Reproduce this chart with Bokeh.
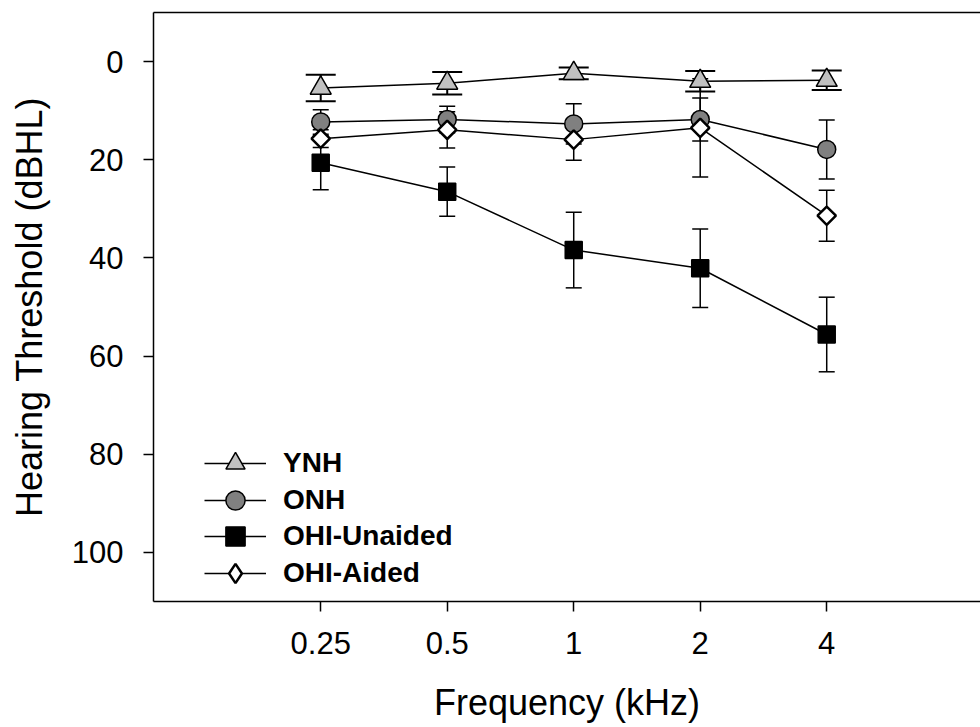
import math
import numpy as np
from bokeh.plotting import figure
from bokeh.models import (Range1d, FixedTicker, LinearAxis, Whisker, TeeHead,
                          ColumnDataSource, Legend, LegendItem, CustomJSTickFormatter)
from bokeh.embed import file_html
from bokeh.resources import INLINE

# ---- data ----
freqs = [0.25, 0.5, 1, 2, 4]
freq_labels = ["0.25", "0.5", "1", "2", "4"]
y_ticks = [0, 20, 40, 60, 80, 100]

ynh = [5.4, 4.4, 2.4, 4.0, 3.8]
ynh_err = [2.7, 2.3, 1.2, 2.1, 2.0]
onh = [12.3, 11.8, 12.7, 11.8, 17.9]
onh_err = [2.5, 2.7, 4.1, 4.4, 6.0]
ohi_unaided = [20.6, 26.5, 38.4, 42.1, 55.6]
ohi_unaided_err = [5.5, 5.0, 7.7, 8.0, 7.6]
ohi_aided = [15.7, 13.9, 15.9, 13.5, 31.4]
ohi_aided_err = [1.8, 3.7, 4.2, 10.0, 5.2]

FONT = "Liberation Sans"

p = figure(width=980, height=727, output_backend="svg", toolbar_location=None,
           x_axis_type="log", x_range=Range1d(0.1, 9.29), y_range=Range1d(110, -10),
           min_border_left=153, min_border_right=0, min_border_top=12, min_border_bottom=126)
p.outline_line_color = None
p.grid.visible = False
p.background_fill_color = "white"

# x axis
xa = p.xaxis[0]
xa.ticker = FixedTicker(ticks=freqs)
xa.formatter = CustomJSTickFormatter(code="return String(tick)")
xa.major_label_overrides = dict(zip(freqs, freq_labels))
xa.minor_tick_line_color = None
xa.major_tick_in = 0
xa.major_tick_out = 10
xa.major_tick_line_width = 1.5
xa.axis_line_width = 1.5
xa.major_label_text_font = FONT
xa.major_label_text_font_size = "31px"
xa.major_label_text_color = "black"
xa.major_label_standoff = 20
xa.axis_label = "Frequency (kHz)"
xa.axis_label_text_font = FONT
xa.axis_label_text_font_size = "36px"
xa.axis_label_text_font_style = "normal"
xa.axis_label_text_color = "black"
xa.axis_label_standoff = 25

# y axis
ya = p.yaxis[0]
ya.ticker = FixedTicker(ticks=y_ticks)
ya.minor_tick_line_color = None
ya.major_tick_in = 0
ya.major_tick_out = 10
ya.major_tick_line_width = 1.5
ya.axis_line_width = 1.5
ya.major_label_text_font = FONT
ya.major_label_text_font_size = "31px"
ya.major_label_text_color = "black"
ya.major_label_standoff = 20
ya.axis_label = "Hearing Threshold (dBHL)"
ya.axis_label_text_font = FONT
ya.axis_label_text_font_size = "36px"
ya.axis_label_text_font_style = "normal"
ya.axis_label_text_color = "black"
ya.axis_label_standoff = 19

# top frame line
top = LinearAxis(ticker=FixedTicker(ticks=[]), major_tick_out=0, major_tick_in=0,
                 minor_tick_out=0, minor_tick_in=0, major_label_standoff=0,
                 major_label_text_font_size="0px", axis_line_width=1.5)
p.add_layout(top, "above")

series = [
    ("YNH", ynh, ynh_err, "triangle", "triangle", 21, "#c0c0c0", 1.5, 0, 30, 2.0),
    ("ONH", onh, onh_err, "circle", "circle", 18, "#808080", 1.5, 0, 16, 1.5),
    ("OHI-Unaided", ohi_unaided, ohi_unaided_err, "square", "square", 17, "black", 1.5, 0, 16, 1.5),
    ("OHI-Aided", ohi_aided, ohi_aided_err, "square", "diamond", 13, "white", 2.5, math.pi / 4, 16, 1.5),
]
legend_y = [114, 77, 41, 4]

for (name, vals, errs, marker, leg_marker, size, fill, lw, ang, cap, elw), ly in zip(series, legend_y):
    src = ColumnDataSource(dict(
        x=freqs, y=vals,
        lo=[v - e for v, e in zip(vals, errs)],
        hi=[v + e for v, e in zip(vals, errs)],
    ))
    w = Whisker(source=src, base="x", upper="hi", lower="lo", line_color="black",
                line_width=elw,
                upper_head=TeeHead(size=cap, line_width=elw, line_color="black"),
                lower_head=TeeHead(size=cap, line_width=elw, line_color="black"))
    p.add_layout(w)
    ln = p.line("x", "y", source=src, line_color="black", line_width=1.5)
    p.scatter("x", "y", source=src, marker=marker, size=size, fill_color=fill,
              line_color="black", line_width=lw, angle=ang)
    # legend-only glyph (a single undrawn NaN point) so the legend marker can differ
    lg = p.scatter(x=np.array([np.nan]), y=np.array([np.nan]), marker=leg_marker,
                   size=size, fill_color=fill, line_color="black", line_width=lw)
    legend = Legend(items=[LegendItem(label=name, renderers=[ln, lg])],
                    location=(51, ly), padding=0, margin=0,
                    border_line_color=None, background_fill_alpha=0,
                    glyph_width=62, glyph_height=48, label_height=48, spacing=0,
                    label_standoff=17, label_text_font=FONT, label_text_font_size="28px",
                    label_text_font_style="bold", label_text_color="black")
    p.add_layout(legend, "center")

open("out.html", "w").write(file_html(p, INLINE))
